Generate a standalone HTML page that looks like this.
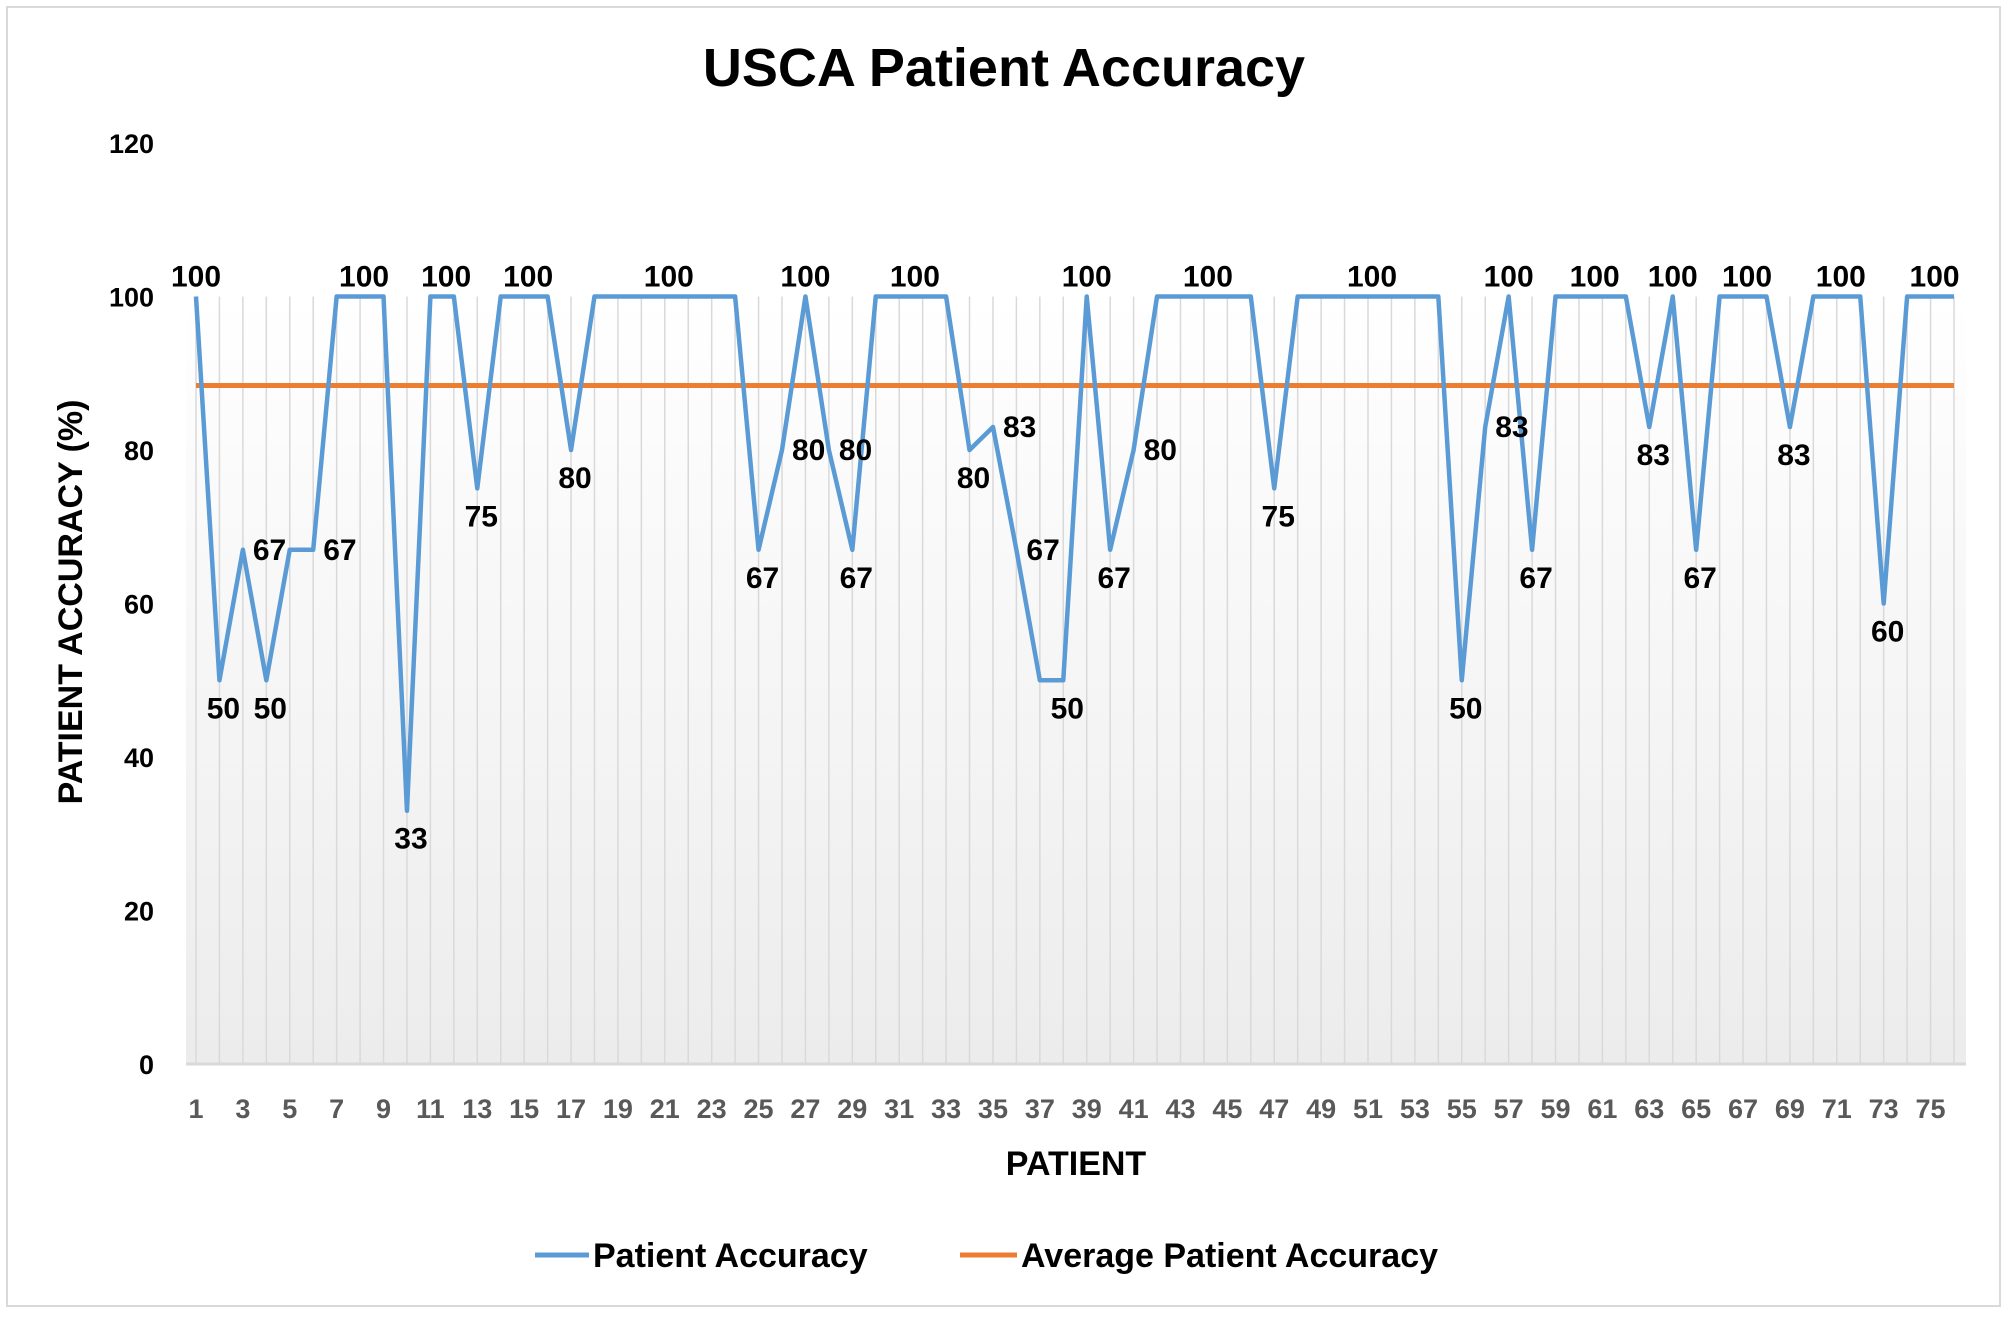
<!DOCTYPE html>
<html><head><meta charset="utf-8"><style>
html,body{margin:0;padding:0;background:#fff;}
svg{display:block;font-family:"Liberation Sans",sans-serif;}
</style></head><body>
<svg id="chart" width="2008" height="1318" viewBox="0 0 2008 1318" xmlns="http://www.w3.org/2000/svg">
<defs><linearGradient id="bg" x1="0" y1="0" x2="0" y2="1"><stop offset="0" stop-color="#ffffff"/><stop offset="1" stop-color="#ececec"/></linearGradient></defs>
<rect x="7" y="7" width="1993" height="1299" fill="#fff" stroke="#d9d9d9" stroke-width="2"/>
<text x="1004" y="86" text-anchor="middle" font-size="54" font-weight="bold" fill="#000">USCA Patient Accuracy</text>
<rect x="186" y="297" width="1780" height="767" fill="url(#bg)"/>
<g id="grid"></g><g id="yticks"></g><g id="xticks"></g>
<line x1="186" y1="1064" x2="1966" y2="1064" stroke="#d9d9d9" stroke-width="3"/>
<g id="series"></g><g id="labels"></g>
<text transform="translate(82,602) rotate(-90)" text-anchor="middle" font-size="34" font-weight="bold" fill="#000">PATIENT ACCURACY (%)</text>
<text x="1076" y="1175" text-anchor="middle" font-size="34" font-weight="bold" fill="#000">PATIENT</text>
<g>
<g><line x1="535" y1="1255" x2="589" y2="1255" stroke="#5b9bd5" stroke-width="5"/><text x="593" y="1267" font-size="34" font-weight="bold" fill="#000">Patient Accuracy</text></g>
<g><line x1="960" y1="1255" x2="1017" y2="1255" stroke="#ed7d31" stroke-width="5"/><text x="1021" y="1267" font-size="34" font-weight="bold" fill="#000">Average Patient Accuracy</text></g>
</g>
</svg>
<script>
const values=[100,50,67,50,67,67,100,100,100,33,100,100,75,100,100,100,80,100,100,100,100,100,100,100,67,80,100,80,67,100,100,100,100,80,83,67,50,50,100,67,80,100,100,100,100,100,75,100,100,100,100,100,100,100,50,83,100,67,100,100,100,100,83,100,67,100,100,100,83,100,100,100,60,100,100,100];
const averageValue=[88.4];
const yTicks=[0,20,40,60,80,100,120];
const NS="http://www.w3.org/2000/svg";
const n=values.length;
function xs(i){return 196+i*(1954-196)/(n-1);}
function ys(v){return 1064-v*(1064-143)/120;}
function mk(tag,attrs,parent,txt){const e=document.createElementNS(NS,tag);for(const k in attrs)e.setAttribute(k,attrs[k]);if(txt!==undefined)e.textContent=txt;parent.appendChild(e);return e;}
const grid=document.getElementById('grid'),yt=document.getElementById('yticks'),xt=document.getElementById('xticks'),ser=document.getElementById('series'),lab=document.getElementById('labels');
for(let i=0;i<n;i++){
  const g=mk('line',{x1:xs(i),y1:ys(100),x2:xs(i),y2:ys(0),stroke:'#d9d9d9','stroke-width':1.5},grid);
  
  
  if(i%2===0){
    const t=mk('text',{x:xs(i),y:1118,'text-anchor':'middle','font-size':27,'font-weight':'bold',fill:'#595959'},xt,String(i+1));
    
    
  }
}
yTicks.forEach(v=>{
  const t=mk('text',{x:154,y:ys(v)+10,'text-anchor':'end','font-size':27,'font-weight':'bold',fill:'#000'},yt,String(v));
  
  
});
const avg=mk('line',{x1:xs(0),y1:ys(averageValue[0]),x2:xs(n-1),y2:ys(averageValue[0]),stroke:'#ed7d31','stroke-width':5},ser);


const pts=values.map((v,i)=>xs(i)+','+ys(v)).join(' ');
const pl=mk('polyline',{points:pts,fill:'none',stroke:'#5b9bd5','stroke-width':4.5,'stroke-linejoin':'round'},ser);


let i=0;
while(i<n){
  const v=values[i];
  let j=i;while(j+1<n&&values[j+1]===v)j++;
  if(v===100){
    const c=(i+j)/2;
    const t=mk('text',{x:xs(0)+(xs(1)-xs(0))*c+(i===j?0:4),y:ys(100)-10,'text-anchor':'middle','font-size':30,'font-weight':'bold',fill:'#000'},lab,'100');
    
    
  } else {
    const prev=i>0?values[i-1]:100,next=j<n-1?values[j+1]:100;
    const isMin=v<=prev&&v<=next;
    const t=isMin?mk('text',{x:xs(j)+4,y:ys(v)+38,'text-anchor':'middle','font-size':30,'font-weight':'bold',fill:'#000'},lab,String(v))
                :mk('text',{x:xs(j)+10,y:ys(v)+10,'text-anchor':'start','font-size':30,'font-weight':'bold',fill:'#000'},lab,String(v));
    
    
  }
  i=j+1;
}
</script>
</body></html>
